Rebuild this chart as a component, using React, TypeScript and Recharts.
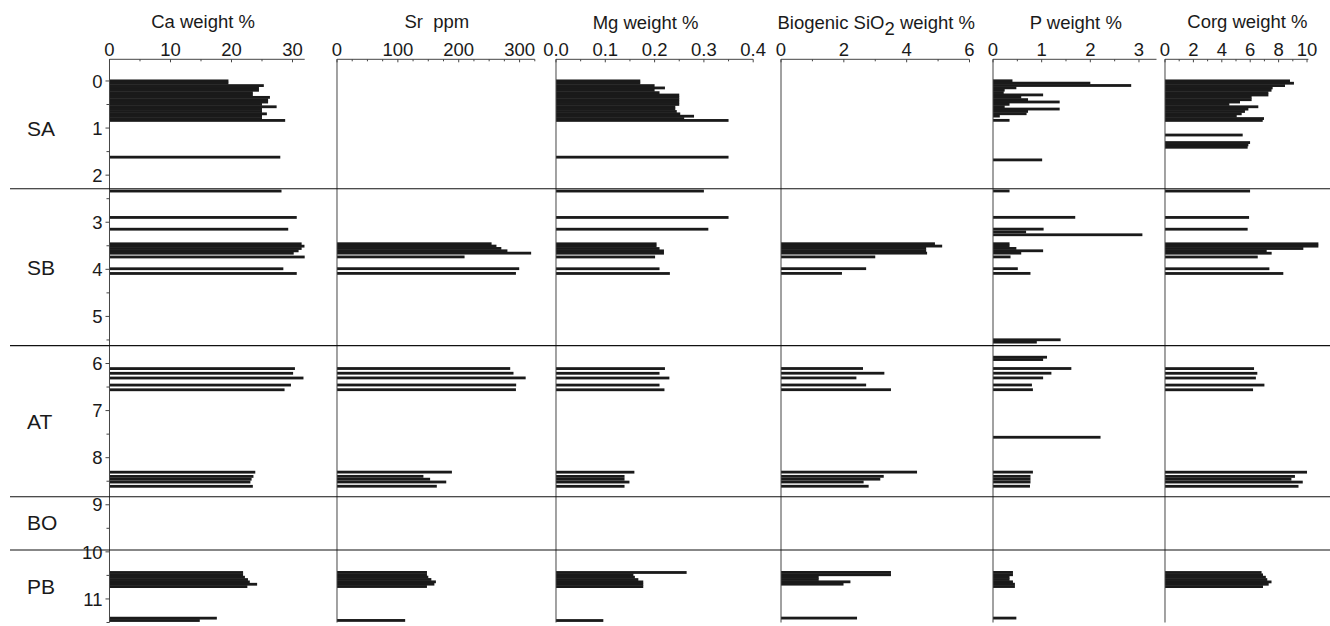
import React from 'react';
import { ComposedChart, Bar, XAxis, YAxis, ReferenceLine, Label } from 'recharts';

const _ = null;

// sample depths (m)
const depthM = [
  0.0, 0.05, 0.1, 0.15, 0.2, 0.25, 0.3, 0.35, 0.4, 0.45, 0.5, 0.55, 0.6, 0.65, 0.7, 0.75, 0.8, 0.84,
  1.15, 1.31, 1.36, 1.41,
  1.62, 1.68,
  2.34, 2.9, 3.15, 3.21, 3.27,
  3.46, 3.51, 3.56, 3.61, 3.66, 3.74, 3.99, 4.09,
  5.5, 5.55, 5.87, 5.92,
  6.11, 6.21, 6.31, 6.46, 6.56,
  7.57,
  8.31, 8.4, 8.46, 8.52, 8.61,
  10.44, 10.49, 10.54, 10.59, 10.64, 10.69, 10.74,
  11.41, 11.46,
];

const caWt = [
  19.5, 19.5, 25.3, 24.5, 24.5, 23.5, 23.5, 26.3, 26.0, 26.0, 25.0, 27.4, 25.0, 25.0, 25.8, 25.0, 25.0, 28.8,
  _, _, _, _,
  28.0, _,
  28.2, 30.7, 29.3, _, _,
  31.5, 32.0, 31.5, 31.0, 30.2, 33.1, 28.5, 30.7,
  _, _, _, _,
  30.4, 30.1, 31.8, 29.75, 28.7,
  _,
  23.9, 23.6, 23.3, 23.1, 23.5,
  21.9, 21.9, 22.2, 22.7, 23.0, 24.2, 22.6,
  17.6, 14.8,
];

const srPpm = [
  _, _, _, _, _, _, _, _, _, _, _, _, _, _, _, _, _, _,
  _, _, _, _,
  _, _,
  _, _, _, _, _,
  254, 262, 270, 280, 319, 209.6, 299.4, 294,
  _, _, _, _,
  284.6, 290, 310, 294.4, 294,
  _,
  188.8, 142, 153, 179.5, 164,
  147.8, 147.8, 150, 155, 162.5, 160, 147.8,
  _, 112,
];

const mgWt = [
  0.171, 0.171, 0.2, 0.221, 0.2, 0.21, 0.25, 0.25, 0.25, 0.25, 0.25, 0.242, 0.242, 0.245, 0.252, 0.28, 0.26, 0.35,
  _, _, _, _,
  0.35, _,
  0.3, 0.35, 0.309, _, _,
  0.204, 0.204, 0.21, 0.219, 0.219, 0.201, 0.21, 0.231,
  _, _, _, _,
  0.221, 0.21, 0.23, 0.21, 0.22,
  _,
  0.159, 0.139, 0.139, 0.149, 0.139,
  0.265, 0.157, 0.16, 0.167, 0.177, 0.177, 0.177,
  _, 0.096,
];

const sio2Wt = [
  _, _, _, _, _, _, _, _, _, _, _, _, _, _, _, _, _, _,
  _, _, _, _,
  _, _,
  _, _, _, _, _,
  4.9, 5.13, 4.62, 4.62, 4.65, 3.0, 2.71, 1.94,
  _, _, _, _,
  2.61, 3.29, 2.4, 2.71, 3.5,
  _,
  4.33, 3.27, 3.16, 2.63, 2.79,
  3.5, 3.5, 1.2, 1.2, 2.21, 1.99, _,
  2.42, _,
];

const pWt = [
  0.4, 2.0, 2.84, 0.48, 0.24, 0.22, 1.03, 0.58, 0.72, 1.37, 0.34, 0.24, 1.37, 0.72, 0.69, 0.14, _, 0.34,
  _, _, _, _,
  _, 1.01,
  0.34, 1.69, 1.04, 0.68, 3.07,
  0.34, 0.34, 0.48, 1.03, 0.58, 0.36, 0.51, 0.77,
  1.39, 0.9, 1.11, 1.03,
  1.61, 1.2, 1.03, 0.8, 0.82,
  2.21,
  0.82, 0.77, 0.77, 0.77, 0.76,
  0.41, 0.41, 0.34, 0.34, 0.41, 0.45, 0.45,
  0.48, _,
];

const corgWt = [
  8.8, 9.08, 8.45, 7.58, 7.5, 7.28, 7.28, 6.1, 6.1, 5.28, 4.53, 6.57, 5.87, 5.63, 5.4, 5.05, 6.97, 6.88,
  5.47, 5.99, 5.87, 5.82,
  _, _,
  5.99, 5.92, 5.82, _, _,
  10.8, 10.8, 9.74, 7.16, 7.51, 6.53, 7.35, 8.33,
  _, _, _, _,
  6.27, 6.5, 6.4, 7.0, 6.2,
  _,
  10.0, 9.15, 8.9, 9.7, 9.4,
  6.8, 6.9, 7.1, 7.2, 7.5, 7.3, 6.9,
  _, _,
];

// zones
const zoneNames = ['SA', 'SB', 'AT', 'BO', 'PB'];
const zoneLabelDepths = [1.0, 3.97, 7.23, 9.38, 10.74];
const zoneBoundaries = [2.29, 5.62, 8.83, 9.96];

// tick labels
const depthTickLabels = [0, 1, 2, 3, 4, 5, 6, 7, 8, 9, 10, 11];
const caTickLabels = [0, 10, 20, 30];
const srTickLabels = [0, 100, 200, 300];
const mgTickLabels = [0, 0.1, 0.2, 0.3, 0.4];
const sio2TickLabels = [0, 2, 4, 6];
const pTickLabels = [0, 1, 2, 3];
const corgTickLabels = [0, 2, 4, 6, 8, 10];

const DEPTH_DOMAIN: [number, number] = [-0.46, 11.5];
const FONT = '"Liberation Sans", Arial, Helvetica, sans-serif';
const INK = '#1a1a1a';

function stepTicks(from: number, to: number, step: number) {
  const out: number[] = [];
  const n = Math.round((to - from) / step);
  for (let i = 0; i <= n; i++) out.push(+(from + i * step).toFixed(4));
  return out;
}

type PanelSpec = {
  title: React.ReactNode;
  values: (number | null)[];
  majors: number[];
  minorStep: number;
  axisEnd: number;
  domainMax: number;
  left: number;
  width: number;
  fmt: (v: number) => string;
  titleShift: number;
};

const panels: PanelSpec[] = [
  { title: 'Ca weight %', values: caWt, majors: caTickLabels, minorStep: 5, axisEnd: 32, domainMax: 32, left: 109.5, width: 195.2, fmt: (v) => String(v), titleShift: -4 },
  { title: 'Sr  ppm', values: srPpm, majors: srTickLabels, minorStep: 25, axisEnd: 325, domainMax: 325, left: 336.7, width: 197.8, fmt: (v) => String(v), titleShift: 1 },
  { title: 'Mg weight %', values: mgWt, majors: mgTickLabels, minorStep: 0.05, axisEnd: 0.4, domainMax: 0.4, left: 555.8, width: 197.2, fmt: (v) => v.toFixed(1), titleShift: -9 },
  { title: 'SIO2', values: sio2Wt, majors: sio2TickLabels, minorStep: 1, axisEnd: 6, domainMax: 6, left: 780.5, width: 188.5, fmt: (v) => String(v), titleShift: 1 },
  { title: 'P weight %', values: pWt, majors: pTickLabels, minorStep: 0.5, axisEnd: 3.36, domainMax: 3.36, left: 993.3, width: 163.5, fmt: (v) => String(v), titleShift: 1 },
  { title: 'Corg weight %', values: corgWt, majors: corgTickLabels, minorStep: 1, axisEnd: 10.1, domainMax: 10.9, left: 1165, width: 154.8, fmt: (v) => String(v), titleShift: 5 },
];

const BarShape = (props: any) => {
  const { x, y, width, height } = props;
  if (!(width > 0) || !isFinite(y) || !isFinite(height)) return null;
  const cy = y + height / 2;
  return <rect x={x} y={cy - 1.4} width={width} height={2.8} fill={INK} />;
};

const makeXTick = (majors: number[], fmt: (v: number) => string) => (props: any) => {
  const { x, y, payload } = props;
  const v = payload.value as number;
  const isMajor = majors.some((m) => Math.abs(m - v) < 1e-9);
  return (
    <g>
      <line x1={x} x2={x} y1={y} y2={y + (isMajor ? 3 : 2)} stroke="#444" strokeWidth={1} />
      {isMajor && (
        <text x={x} y={y - 3} textAnchor="middle" fontSize={18.5} fill={INK}>
          {fmt(v)}
        </text>
      )}
    </g>
  );
};

const DepthTick = (props: any) => {
  const { x, y, payload } = props;
  const v = payload.value as number;
  const isMajor = depthTickLabels.includes(v);
  return (
    <g>
      <line x1={x} x2={x - (isMajor ? 4 : 3)} y1={y} y2={y} stroke="#444" strokeWidth={1} />
      {isMajor && (
        <text x={x - 7} y={y} dy="0.36em" textAnchor="end" fontSize={18.5} fill={INK}>
          {v}
        </text>
      )}
    </g>
  );
};

const makeTitle = (title: React.ReactNode, shift: number) => (props: any) => {
  const vb = props.viewBox || { x: 0, y: 0, width: 0, height: 0 };
  const cx = vb.x + vb.width / 2 + shift;
  const ty = vb.y + 28.5;
  if (title === 'SIO2') {
    return (
      <text x={cx} y={ty} textAnchor="middle" fontSize={18.5} fill={INK}>
        Biogenic SiO
        <tspan dy={6}>2</tspan>
        <tspan dy={-6}> weight %</tspan>
      </text>
    );
  }
  return (
    <text x={cx} y={ty} textAnchor="middle" fontSize={18.5} fill={INK} style={{ whiteSpace: 'pre' }}>
      {title}
    </text>
  );
};

const TOP = 59.3;
const BOTTOM = 3.5;
const H = 626;

function Panel({ p, first }: { p: PanelSpec; first: boolean }) {
  const rows = depthM
    .map((d, i) => ({ depth: d, v: p.values[i] }))
    .filter((r) => r.v !== null && r.v !== undefined);
  const yW = first ? 100 : 0;
  const ml = first ? p.left - yW : 20;
  const mr = 20;
  const chartLeft = first ? 0 : p.left - ml;
  const W = ml + yW + p.width + mr;
  const allTicks = stepTicks(0, Math.floor(p.axisEnd / p.minorStep + 1e-9) * p.minorStep, p.minorStep);
  return (
    <div style={{ position: 'absolute', left: chartLeft, top: 0 }}>
      <ComposedChart
        layout="vertical"
        width={W}
        height={H}
        data={rows}
        margin={{ top: 0, right: mr, bottom: BOTTOM, left: ml }}
      >
        <XAxis
          type="number"
          orientation="top"
          height={TOP}
          domain={[0, p.domainMax]}
          allowDataOverflow
          ticks={allTicks}
          interval={0}
          tickSize={0}
          tickMargin={0}
          axisLine={false}
          tickLine={false}
          tick={makeXTick(p.majors, p.fmt)}
        >
          <Label content={makeTitle(p.title, p.titleShift)} />
        </XAxis>
        <YAxis
          type="number"
          dataKey="depth"
          domain={DEPTH_DOMAIN}
          allowDataOverflow
          hide={!first}
          width={yW}
          ticks={stepTicks(0, 11.5, 0.5)}
          interval={0}
          tickSize={0}
          tickMargin={0}
          axisLine={{ stroke: '#444', strokeWidth: 1 }}
          tickLine={false}
          tick={DepthTick}
        />
        <ReferenceLine
          segment={[
            { x: 0, y: DEPTH_DOMAIN[0] },
            { x: p.axisEnd, y: DEPTH_DOMAIN[0] },
          ]}
          stroke="#444"
          strokeWidth={1}
          ifOverflow="visible"
        />
        {!first && <ReferenceLine x={0} stroke="#444" strokeWidth={1} ifOverflow="visible" />}
        <Bar dataKey="v" fill={INK} barSize={2} shape={BarShape} isAnimationActive={false} />
      </ComposedChart>
    </div>
  );
}

function ZoneLayer() {
  const rows = zoneNames.map((n, i) => ({ depth: zoneLabelDepths[i], v: 0 }));
  return (
    <div style={{ position: 'absolute', left: 0, top: 0, pointerEvents: 'none' }}>
      <ComposedChart
        layout="vertical"
        width={1330}
        height={H}
        data={rows}
        margin={{ top: TOP, right: 0, bottom: BOTTOM, left: 10 }}
      >
        <XAxis type="number" hide domain={[0, 1]} />
        <YAxis type="number" dataKey="depth" hide domain={DEPTH_DOMAIN} allowDataOverflow />
        <Bar dataKey="v" fill="none" isAnimationActive={false} />
        {zoneBoundaries.map((b) => (
          <ReferenceLine key={'b' + b} y={b} stroke="#111" strokeWidth={1.1} ifOverflow="visible" />
        ))}
        {zoneNames.map((n, i) => (
          <ReferenceLine
            key={n}
            y={zoneLabelDepths[i]}
            stroke="none"
            ifOverflow="visible"
            label={{ value: n, position: 'insideLeft', offset: 17, fontSize: 21, fill: INK }}
          />
        ))}
      </ComposedChart>
    </div>
  );
}

export default function App() {
  return (
    <div
      style={{
        position: 'absolute',
        left: 0,
        top: 0,
        width: 1330,
        height: 626,
        background: '#fff',
        fontFamily: FONT,
        overflow: 'hidden',
      }}
    >
      {panels.map((p, i) => (
        <Panel key={i} p={p} first={i === 0} />
      ))}
      <ZoneLayer />
    </div>
  );
}
